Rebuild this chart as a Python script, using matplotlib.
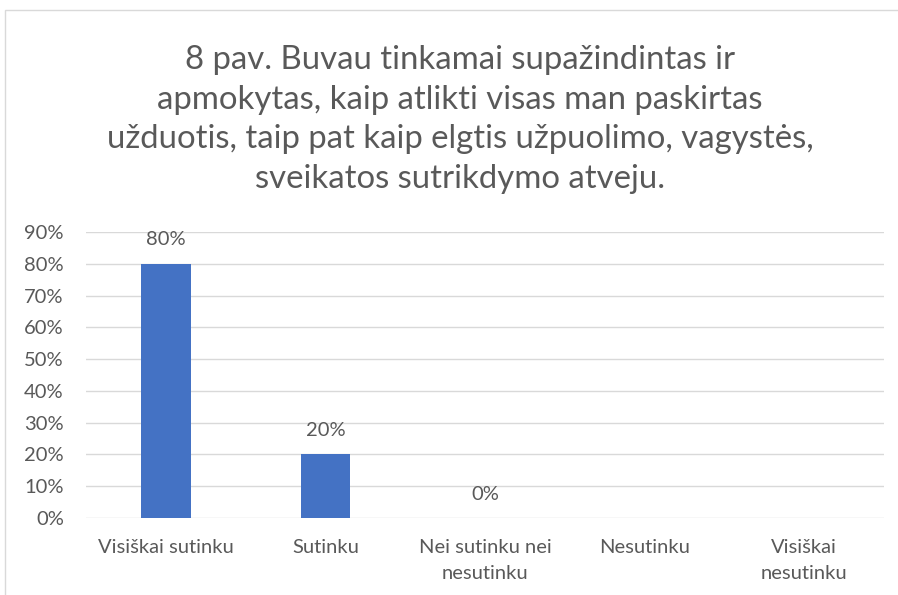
import matplotlib.pyplot as plt
from matplotlib.patches import Rectangle
from matplotlib.ticker import PercentFormatter

# chart data
categories = ["Visiškai sutinku", "Sutinku", "Nei sutinku nei\nnesutinku",
              "Nesutinku", "Visiškai\nnesutinku"]
values = [0.80, 0.20, 0.0, None, None]
title = ("8 pav. Buvau tinkamai supažindintas ir\n"
         "apmokytas, kaip atlikti visas man paskirtas\n"
         "užduotis, taip pat kaip elgtis užpuolimo, vagystės,\n"
         "sveikatos sutrikdymo atveju.")

plt.rcParams['font.family'] = ['Lato', 'DejaVu Sans']
txt = '#595959'
W, H = 898, 595

fig = plt.figure(figsize=(W / 100, H / 100), dpi=100)
fig.patches.append(Rectangle((5 / W, -0.1), 1.2, 1 - 10 / H + 0.1,
                             transform=fig.transFigure, fill=False,
                             edgecolor='#d9d9d9', linewidth=1))

ax = fig.add_axes([86 / W, (H - 518) / H, 798 / W, (518 - 232) / H])
x = list(range(len(categories)))
heights = [v if v is not None else 0 for v in values]
ax.bar(x, heights, width=0.31, color='#4472c4', zorder=3)
for xi, v in zip(x, values):
    if v is None:
        continue
    ax.annotate(f"{v:.0%}", (xi, v), xytext=(0, 11), textcoords='offset points',
                ha='center', va='bottom', fontsize=14.5, color=txt)

ax.set_xlim(-0.5, len(categories) - 0.5)
ax.set_ylim(0, 0.9)
ax.set_yticks([i / 10 for i in range(10)])
ax.yaxis.set_major_formatter(PercentFormatter(1.0, decimals=0))
ax.set_xticks(x)
ax.set_xticklabels(categories, fontsize=14.5, color=txt, linespacing=1.65)
ax.tick_params(axis='y', labelsize=14.5, labelcolor=txt, length=0, pad=16)
ax.tick_params(axis='x', length=0, pad=15)
ax.grid(axis='y', color='#d9d9d9', linewidth=1, zorder=0)
for s in ax.spines.values():
    s.set_visible(False)

fig.text(460 / W, 1 - 45 / H, title, ha='center', va='top', fontsize=23.7,
         color=txt, linespacing=1.4)

fig.savefig('out.png', dpi=100)
